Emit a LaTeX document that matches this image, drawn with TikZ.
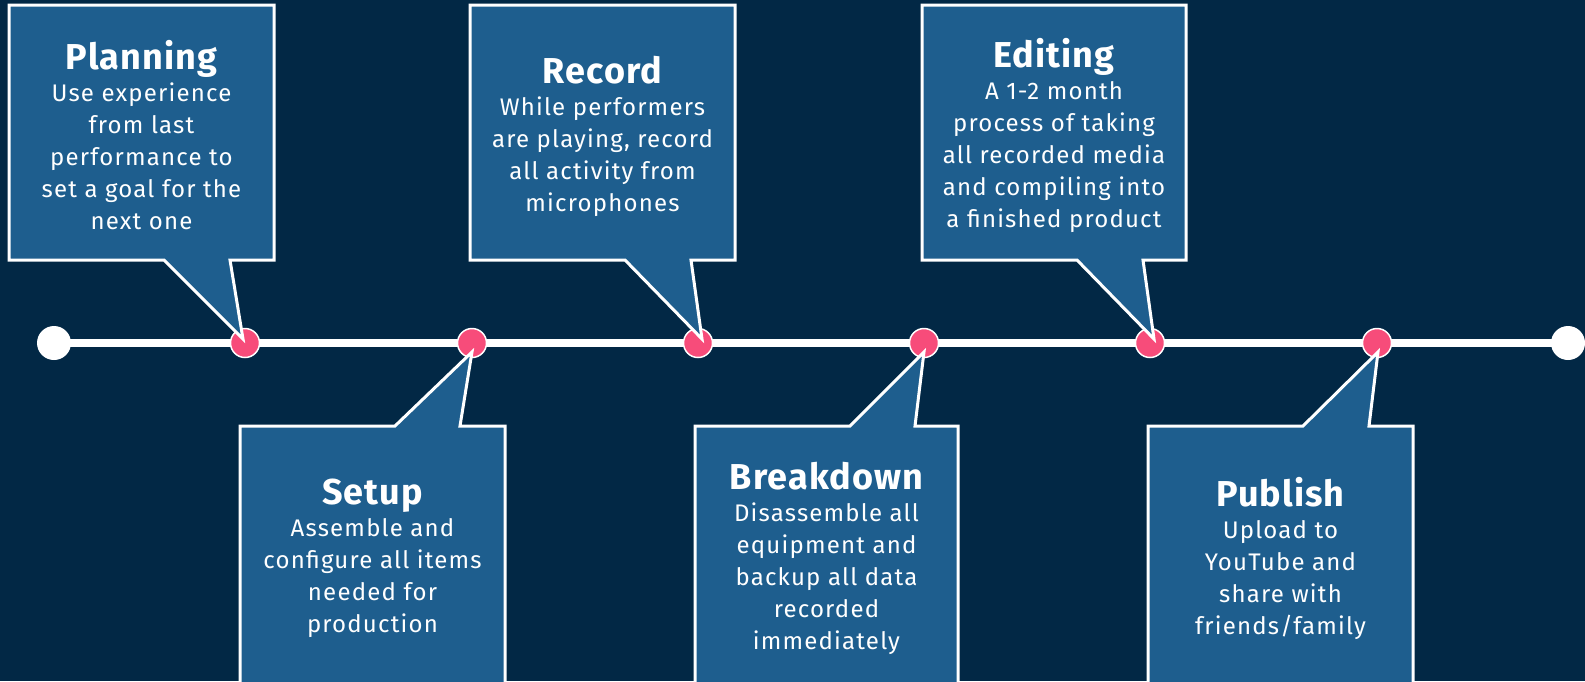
\documentclass[tikz,border=0pt]{standalone}
\usepackage{fontspec}
\setmainfont{Fira Sans}[LetterSpace=5]
\newfontfamily\titlefont{Fira Sans}[LetterSpace=3]
\usetikzlibrary{calc}
\definecolor{bgc}{RGB}{2,40,69}
\definecolor{boxc}{RGB}{30,94,142}
\definecolor{pinkc}{RGB}{247,76,122}
\tikzset{
  callout/.style={draw=white, line width=3pt, fill=boxc, line join=miter},
  stagetext/.style={text=white, align=center, font=\fontsize{24}{32}\selectfont, inner sep=0pt},
  enddot/.style={circle, fill=white, minimum size=34pt, inner sep=0pt},
  stagedot/.style={circle, fill=pinkc, draw=white, line width=1.5pt, minimum size=29pt, inner sep=0pt},
  tline/.style={white, line width=8pt},
}
\newcommand{\stagetitle}[1]{{\titlefont\fontsize{36}{36}\selectfont\bfseries #1}}
\begin{document}
\begin{tikzpicture}[x=1pt,y=-1pt]
\fill[bgc] (0,0) rectangle (1585,681);
\useasboundingbox (0,0) rectangle (1585,681);
\clip (0,0) rectangle (1585,681);
% timeline
\node[enddot] (s) at (54,343) {};
\node[enddot] (e) at (1568,343) {};
\draw[tline] (s.center) -- (e.center);
\node[stagedot] (d1) at (245,343) {};
\node[stagedot] (d2) at (472,343) {};
\node[stagedot] (d3) at (698,343) {};
\node[stagedot] (d4) at (924,343) {};
\node[stagedot] (d5) at (1150,343) {};
\node[stagedot] (d6) at (1377,343) {};
% top callouts
\draw[callout] (9,5) -- (274,5) -- (274,260) -- (230,260) -- ($(d1)+(-2,-4)$) -- (164,260) -- (9,260) -- cycle;
\draw[callout] (470,5) -- (735,5) -- (735,260) -- (691,260) -- ($(d3)+(4,-4)$) -- (625,260) -- (470,260) -- cycle;
\draw[callout] (922,5) -- (1186,5) -- (1186,260) -- (1143,260) -- ($(d5)+(4,-4)$) -- (1077,260) -- (922,260) -- cycle;
% bottom callouts
\draw[callout] (240,690) -- (240,426) -- (395,426) -- ($(d2)+(0,9)$) -- (460,426) -- (505,426) -- (505,690);
\draw[callout] (695,690) -- (695,426) -- (850,426) -- ($(d4)+(0,9)$) -- (915,426) -- (958,426) -- (958,690);
\draw[callout] (1148,690) -- (1148,426) -- (1303,426) -- ($(d6)+(1,9)$) -- (1369,426) -- (1413,426) -- (1413,690);
% texts
\node[stagetext] (t1) at (141.5,135) {\stagetitle{Planning}\\Use experience\\from last\\performance to\\set a goal for the\\next one};
\node[stagetext] (t3) at (602.5,136) {\stagetitle{Record}\\While performers\\are playing, record\\all activity from\\microphones};
\node[stagetext] (t5) at (1054,135) {\stagetitle{Editing}\\A 1-2 month\\process of taking\\all recorded media\\and compiling into\\a finished product};
\node[stagetext] (t2) at (372.5,558) {\stagetitle{Setup}\\Assemble and\\configure all items\\needed for\\production};
\node[stagetext] (t4) at (826.5,558) {\stagetitle{Breakdown}\\Disassemble all\\equipment and\\backup all data\\recorded\\immediately};
\node[stagetext] (t6) at (1280.5,558) {\stagetitle{Publish}\\Upload to\\YouTube and\\share with\\friends/family};
\end{tikzpicture}
\end{document}
